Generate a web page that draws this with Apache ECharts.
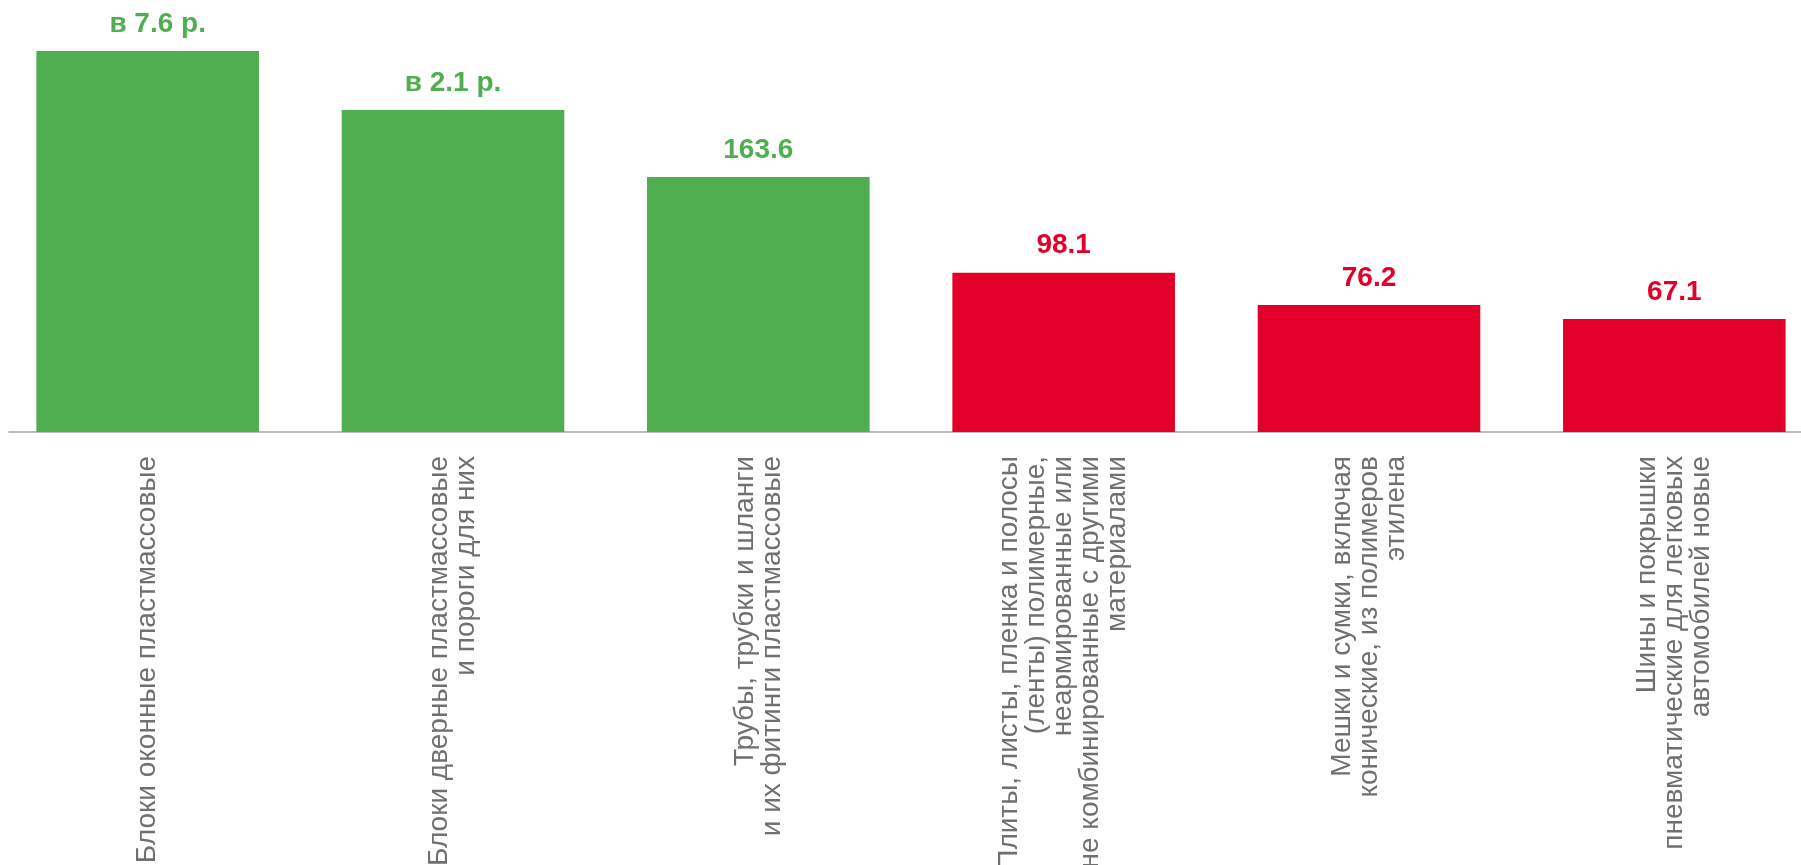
<!DOCTYPE html>
<html>
<head>
<meta charset="utf-8">
<style>
  html, body { margin: 0; padding: 0; background: #ffffff; overflow: hidden; width: 1801px; height: 865px; position: relative; }
  #chart { position: absolute; left: -5px; top: 0; width: 1832px; height: 865px; }
</style>
<script src="https://cdn.jsdelivr.net/npm/echarts@6/dist/echarts.min.js"></script>
</head>
<body>
<div id="chart"></div>
<script>
// Categories (axis labels)
const categories = [
  'Блоки оконные пластмассовые',
  'Блоки дверные пластмассовые\nи пороги для них',
  'Трубы, трубки и шланги\nи их фитинги пластмассовые',
  'Плиты, листы, пленка и полосы\n(ленты) полимерные,\nнеармированные или\nне комбинированные с другими\nматериалами',
  'Мешки и сумки, включая\nконические, из полимеров\nэтилена',
  'Шины и покрышки\nпневматические для легковых\nавтомобилей новые'
];
// Index values in % of previous year (as labelled)
const indexPct = [760, 210, 163.6, 98.1, 76.2, 67.1];
// Bar heights as drawn in the picture (chart units)
const barHeights = [238.1, 201.3, 159.4, 99.6, 79.4, 70.6];

const GREEN = '#50AE50';
const RED = '#E2002A';

function labelText(v) {
  return v >= 200 ? 'в ' + (v / 100).toFixed(1) + ' р.' : v.toFixed(1);
}
function colorFor(v) { return v >= 100 ? GREEN : RED; }

const seriesData = barHeights.map((h, i) => ({
  value: h,
  itemStyle: { color: colorFor(indexPct[i]) },
  label: {
    formatter: labelText(indexPct[i]),
    color: colorFor(indexPct[i]),
    offset: i === 0 ? [10, 0] : [0, 0]
  }
}));

const chart = echarts.init(document.getElementById('chart'), null, { renderer: 'canvas', width: 1832, height: 865 });
chart.setOption({
  animation: false,
  backgroundColor: '#ffffff',
  grid: [
    { left: 0, width: 1832, top: 32, height: 400, containLabel: false, outerBoundsMode: 'none' },
    { left: 14, width: 1818, top: 32, height: 400, containLabel: false, outerBoundsMode: 'none' }
  ],
  xAxis: [{
    type: 'category',
    gridIndex: 0,
    data: categories,
    axisTick: { show: false },
    axisLine: { show: false },
    axisLabel: {
      interval: 0,
      rotate: 90,
      margin: 24,
      color: '#707070',
      fontFamily: 'Liberation Sans, Arial, sans-serif',
      fontSize: 28,
      lineHeight: 27
    }
  }, {
    type: 'category',
    gridIndex: 1,
    data: [''],
    axisTick: { show: false },
    axisLabel: { show: false },
    axisLine: { show: true, lineStyle: { color: '#A6A6A6', width: 1.5 } }
  }],
  yAxis: [{
    type: 'value',
    gridIndex: 0,
    min: 0,
    max: 250,
    show: false,
    splitLine: { show: false }
  }, {
    type: 'value',
    gridIndex: 1,
    min: 0,
    max: 250,
    axisLine: { show: false },
    axisTick: { show: false },
    axisLabel: { show: false },
    splitLine: { show: false }
  }],
  series: [{
    type: 'bar',
    xAxisIndex: 0,
    yAxisIndex: 0,
    data: seriesData,
    barWidth: '72.9%',
    label: {
      show: true,
      position: 'top',
      distance: 13,
      fontFamily: 'Liberation Sans, Arial, sans-serif',
      fontSize: 28,
      fontWeight: 'bold'
    }
  }]
});
</script>
</body>
</html>
